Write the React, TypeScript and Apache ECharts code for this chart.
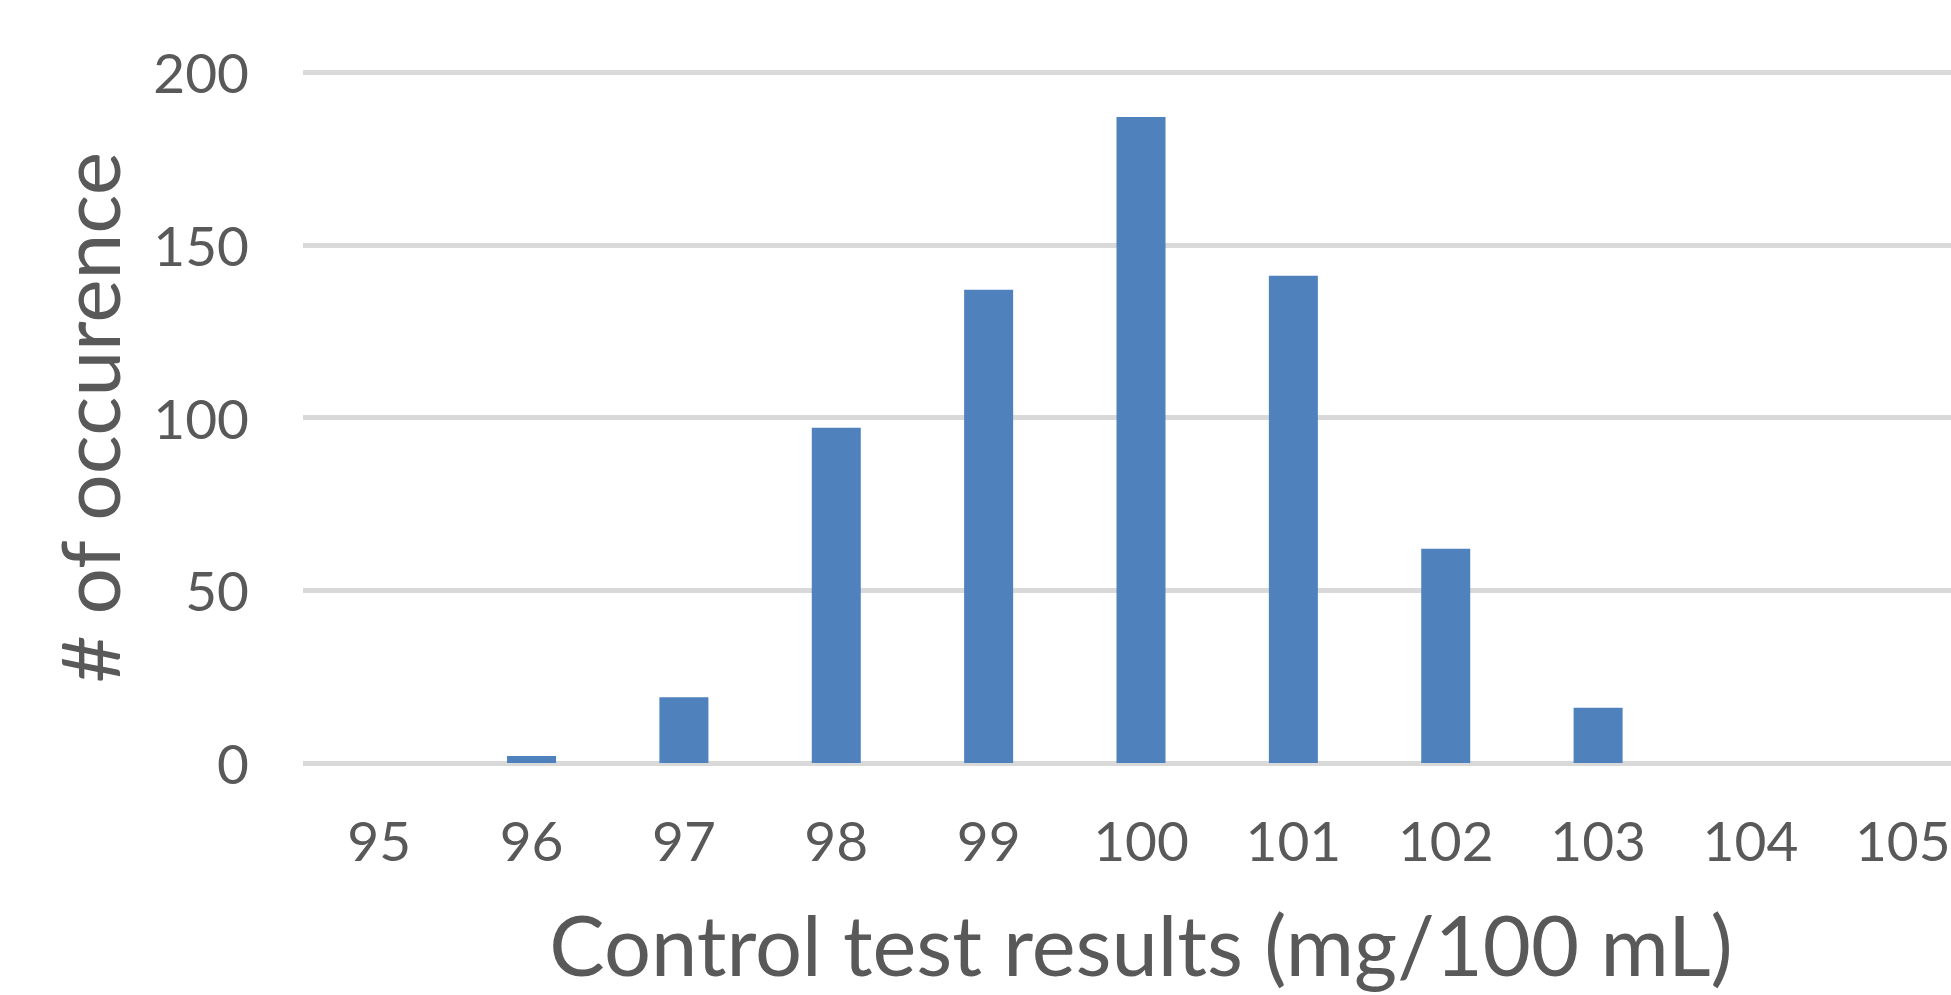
import React, { useEffect, useRef } from "react";
import * as echarts from "echarts";

const categories = ["95", "96", "97", "98", "99", "100", "101", "102", "103", "104", "105"];
const occurrences = [0, 2, 19, 97, 137, 187, 141, 62, 16, 0, 0];
const yTicks = { min: 0, max: 200, interval: 50 };

const xTitle = "Control test results (mg/100 mL)";
const yTitle = "# of occurence";

export default function App() {
  const ref = useRef<HTMLDivElement>(null);

  useEffect(() => {
    if (!ref.current) return;
    const chart = echarts.init(ref.current, null, { renderer: "svg" });
    const textColor = "#595959";
    chart.setOption({
      animation: false,
      backgroundColor: "#ffffff",
      grid: {
        left: 303,
        top: 72,
        width: 1676,
        bottom: 232,
        containLabel: false,
        outerBoundsMode: "none",
      },
      xAxis: {
        type: "category",
        data: categories,
        axisLine: { show: false },
        axisTick: { show: false },
        axisLabel: {
          color: textColor,
          fontFamily: "Lato",
          fontSize: 55,
          margin: 49,
        },
        name: xTitle,
        nameLocation: "middle",
        nameGap: 146,
        nameTextStyle: { color: textColor, fontFamily: "Lato", fontSize: 83, lineHeight: 70 },
      },
      yAxis: {
        type: "value",
        min: yTicks.min,
        max: yTicks.max,
        interval: yTicks.interval,
        axisLine: { show: false },
        axisTick: { show: false },
        axisLabel: {
          color: textColor,
          fontFamily: "Lato",
          fontSize: 55,
          margin: 54,
        },
        splitLine: { show: true, lineStyle: { color: "#d9d9d9", width: 5 } },
        name: yTitle,
        nameLocation: "middle",
        nameGap: 174,
        nameTextStyle: { color: textColor, fontFamily: "Lato", fontSize: 82 },
      },
      series: [
        {
          type: "bar",
          data: occurrences,
          barWidth: 49,
          itemStyle: { color: "#4f81bd" },
        },
      ],
    });
    return () => chart.dispose();
  }, []);

  return (
    <div
      ref={ref}
      style={{ position: "absolute", left: 0, top: 0, width: 1951, height: 995 }}
    />
  );
}
